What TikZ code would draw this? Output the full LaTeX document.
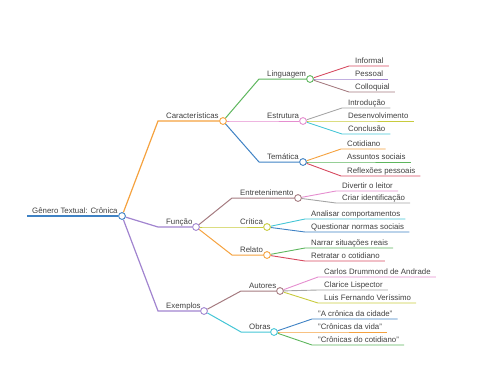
\documentclass[tikz,border=0pt]{standalone}
\usepackage{fontspec}
\usetikzlibrary{calc}
\setmainfont{Liberation Sans}
\definecolor{txt}{HTML}{404040}
\definecolor{cblue}{HTML}{3F82C4}
\definecolor{corange}{HTML}{F5A23F}
\definecolor{cgreen}{HTML}{5DB65D}
\definecolor{cred}{HTML}{D6495F}
\definecolor{cpurple}{HTML}{A184CF}
\definecolor{cbrown}{HTML}{A57B80}
\definecolor{cpink}{HTML}{E58ECF}
\definecolor{cgray}{HTML}{A5A5A5}
\definecolor{colive}{HTML}{C8CB3E}
\definecolor{ccyan}{HTML}{45C6D6}
\pgfdeclarelayer{bg}
\pgfsetlayers{bg,main}
\begin{document}
\begin{tikzpicture}[x=1pt, y=-1pt,
    lbl/.style={anchor=base west, inner sep=0pt, text=txt,
      font=\fontsize{7.85}{9}\selectfont},
    dot/.style={circle, draw=#1, fill=white, line width=0.9pt,
      inner sep=0pt, minimum size=6.8pt},
    link/.style={draw=#1, line width=0.9pt}]
  \useasboundingbox (0,0) rectangle (480,384);
  % root
  \coordinate (root-s) at (27,216);
  \node[lbl] (root-t) at (32,213) {Gênero Textual: Crônica};
  \node[dot=cblue] (root) at (122,216) {};
  \begin{pgfonlayer}{bg}
    \draw[link=cblue, line width=1.4pt] (root-s) -- (root);
  \end{pgfonlayer}
  % first level
  \foreach \n/\y/\d/\c/\t in {car/121/223/corange/Características,
      fun/227/196/cpurple/Função, exe/311/204/cpurple/Exemplos}{
    \coordinate (\n-s) at (158,\y);
    \node[lbl] (\n-t) at (166,\y-3) {\t};
    \node[dot=\c] (\n) at (\d,\y) {};
    \begin{pgfonlayer}{bg}
      \draw[link=\c, line width=1.2pt] (root)
        .. controls ($(root)!.5!(\n-s)$ |- root)
        and ($(root)!.5!(\n-s)$ |- \n-s) .. (\n-s) -- (\n);
    \end{pgfonlayer}
  }
  % second level
  \foreach \p/\n/\x/\y/\d/\c/\t in {car/lin/267/79/310/cgreen/Linguagem,
      car/est/267/121/303/cpink/Estrutura, car/tem/267/162/303/cblue/Temática,
      fun/ent/240/198/298/cbrown/Entretenimento, fun/cri/240/227/267/colive/Crítica,
      fun/rel/240/255/267/corange/Relato, exe/aut/249/291/280/cbrown/Autores,
      exe/obr/249/332/274/ccyan/Obras}{
    \coordinate (\n-s) at (\x-8,\y);
    \node[lbl] (\n-t) at (\x,\y-3) {\t};
    \node[dot=\c] (\n) at (\d,\y) {};
    \begin{pgfonlayer}{bg}
      \draw[link=\c, line width=1pt] (\p)
        .. controls ($(\p)!.5!(\n-s)$ |- \p)
        and ($(\p)!.5!(\n-s)$ |- \n-s) .. (\n-s) -- (\n);
    \end{pgfonlayer}
  }
  % leaves
  \foreach \p/\n/\x/\y/\c/\t in {lin/inf/355/66/cred/Informal,
      lin/pes/355/79/cpurple/Pessoal, lin/col/355/92/cbrown/Colloquial,
      est/int/348/108/cgray/Introdução, est/des/348/121/colive/Desenvolvimento,
      est/con/348/134/ccyan/Conclusão,
      tem/cot/347/149/corange/Cotidiano, tem/ass/347/162/cgreen/Assuntos sociais,
      tem/ref/347/176/cred/Reflexões pessoais,
      ent/div/342/191/cpink/Divertir o leitor, ent/cid/342/203/cgray/Criar identificação,
      cri/ana/311/219/ccyan/Analisar comportamentos,
      cri/que/311/232/cblue/Questionar normas sociais,
      rel/nar/311/248/cgreen/Narrar situações reais,
      rel/ret/311/261/cred/Retratar o cotidiano,
      aut/cdr/324/277/cpink/Carlos Drummond de Andrade,
      aut/cli/324/290/cgray/Clarice Lispector,
      aut/lfv/324/303/colive/Luis Fernando Veríssimo,
      obr/acc/318/319/cblue/"A crônica da cidade",
      obr/cdv/318/332/corange/"Crônicas da vida",
      obr/cdc/318/345/cgreen/"Crônicas do cotidiano"}{
    \coordinate (\n-s) at (\x-6,\y);
    \node[lbl] (\n) at (\x,\y-3) {\t};
    \begin{pgfonlayer}{bg}
      \draw[link=\c] (\p)
        .. controls ($(\p)!.5!(\n-s)$ |- \p)
        and ($(\p)!.5!(\n-s)$ |- \n-s) .. (\n-s)
        -- ([xshift=5pt]\n.east |- \n-s);
    \end{pgfonlayer}
  }
\end{tikzpicture}
\end{document}
